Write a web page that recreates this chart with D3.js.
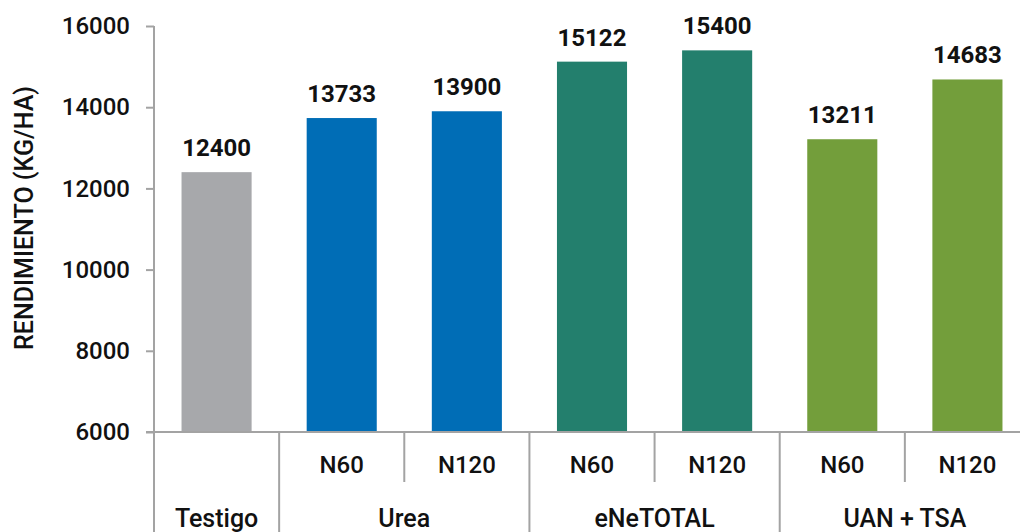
<!DOCTYPE html>
<html>
<head>
<meta charset="utf-8">
<script src="https://cdn.jsdelivr.net/npm/d3@7"></script>
<style>
  body { margin: 0; background: #fff; }
  text { font-family: Roboto, "Liberation Sans", Arial, sans-serif; fill: #111; }
</style>
</head>
<body>
<div id="chart"></div>
<script>
'use strict';

// data
var groups  = ["Testigo", "Urea", "Urea", "eNeTOTAL", "eNeTOTAL", "UAN + TSA", "UAN + TSA"];
var doses   = ["", "N60", "N120", "N60", "N120", "N60", "N120"];
var values  = [12400, 13733, 13900, 15122, 15400, 13211, 14683];
var yTicks  = [6000, 8000, 10000, 12000, 14000, 16000];
var groupColors = { "Testigo": "#A7A8AB", "Urea": "#006DB6", "eNeTOTAL": "#237F6D", "UAN + TSA": "#739E3B" };

var svgWidth = 1020, svgHeight = 532;
var axisColor = "#A3A3A3";

var data = values.map(function(v, i) {
    return { key: groups[i] + " " + doses[i], group: groups[i], dose: doses[i], value: v };
});

var svg = d3.select("#chart").append("svg")
    .attr("width", svgWidth)
    .attr("height", svgHeight);

var x = d3.scaleBand()
    .domain(data.map(function(d) { return d.key; }))
    .range([154, 1030])
    .paddingInner(0.44)
    .paddingOuter(0.22);

var y = d3.scaleLinear()
    .domain([6000, 16000])
    .range([432, 26]);

var step = x.step();
function leftEdge(d) { return x(d.key) - (step - x.bandwidth()) / 2; }

// y axis
var yAxis = svg.append("g")
    .attr("transform", "translate(154,0)")
    .call(d3.axisLeft(y).tickValues(yTicks).tickSize(8).tickPadding(16).tickFormat(d3.format("d")));
yAxis.select(".domain").remove();
yAxis.selectAll(".tick line").attr("stroke", axisColor).attr("stroke-width", 2);
yAxis.selectAll(".tick text")
    .attr("fill", "#111")
    .style("font-family", "Roboto, sans-serif")
    .style("font-size", "24px")
    .style("font-weight", "500");

// vertical axis line running down through the category rows
svg.append("line")
    .attr("x1", 154).attr("x2", 154)
    .attr("y1", y(16000)).attr("y2", svgHeight)
    .attr("stroke", axisColor).attr("stroke-width", 2);

// bars
svg.selectAll(".bar")
    .data(data)
    .enter().append("rect")
    .attr("class", "bar")
    .attr("x", function(d) { return x(d.key); })
    .attr("y", function(d) { return y(d.value); })
    .attr("width", x.bandwidth())
    .attr("height", function(d) { return y(6000) - y(d.value); })
    .attr("fill", function(d) { return groupColors[d.group]; });

// baseline
svg.append("line")
    .attr("x1", 146).attr("x2", svgWidth)
    .attr("y1", y(6000)).attr("y2", y(6000))
    .attr("stroke", axisColor).attr("stroke-width", 2);

// value labels
svg.selectAll(".val")
    .data(data)
    .enter().append("text")
    .attr("class", "val")
    .attr("x", function(d) { return x(d.key) + x.bandwidth() / 2; })
    .attr("y", function(d) { return y(d.value) - 16; })
    .attr("text-anchor", "middle")
    .style("font-size", "24px")
    .style("font-weight", "bold")
    .text(function(d) { return d.value; });

// separators: full height between groups, short between doses
data.forEach(function(d, i) {
    if (i === 0) return;
    var newGroup = d.group !== data[i - 1].group;
    svg.append("line")
        .attr("x1", leftEdge(d)).attr("x2", leftEdge(d))
        .attr("y1", y(6000)).attr("y2", newGroup ? svgHeight : 482)
        .attr("stroke", axisColor).attr("stroke-width", 2);
});

// dose labels
svg.selectAll(".dose")
    .data(data.filter(function(d) { return d.dose; }))
    .enter().append("text")
    .attr("class", "dose")
    .attr("x", function(d) { return x(d.key) + x.bandwidth() / 2; })
    .attr("y", 473)
    .attr("text-anchor", "middle")
    .style("font-size", "24px")
    .style("font-weight", "500")
    .text(function(d) { return d.dose; });

// group labels
var groupNames = Array.from(new Set(groups));
svg.selectAll(".grp")
    .data(groupNames)
    .enter().append("text")
    .attr("class", "grp")
    .attr("x", function(g) {
        var members = data.filter(function(d) { return d.group === g; });
        var a = x(members[0].key), b = x(members[members.length - 1].key) + x.bandwidth();
        return (a + b) / 2;
    })
    .attr("y", 527)
    .attr("text-anchor", "middle")
    .style("font-size", "25px")
    .style("font-weight", "500")
    .text(function(g) { return g; });

// y title
svg.append("text")
    .attr("transform", "translate(33,218) rotate(-90)")
    .attr("text-anchor", "middle")
    .style("font-size", "25px")
    .style("font-weight", "500")
    .text("RENDIMIENTO (KG/HA)");
</script>
</body>
</html>
